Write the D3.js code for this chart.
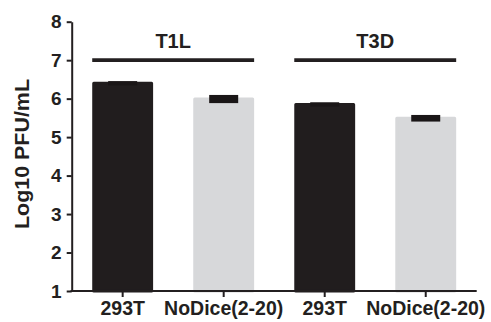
<!DOCTYPE html>
<html>
<head>
<meta charset="utf-8">
<script src="https://cdn.jsdelivr.net/npm/d3@7/dist/d3.min.js"></script>
<style>
  html, body { margin: 0; padding: 0; background: #fff; }
  svg { display: block; font-family: "Liberation Sans", Arial, Helvetica, sans-serif; }
</style>
</head>
<body>
<svg id="chart" width="491" height="322"></svg>
<script>
// Virus titres per cell line, grouped by reovirus strain
const cellLines = ["293T", "NoDice(2-20)", "293T", "NoDice(2-20)"];
const titres = [6.40, 5.99, 5.85, 5.49];   // mean Log10 PFU/mL
const errors = [0.03, 0.08, 0.03, 0.06];   // error bar half-length
const barColors = ["#211d1e", "#d7d8da", "#211d1e", "#d7d8da"];
const strains = ["T1L", "T3D"];
const strainBars = [[0, 1], [2, 3]];       // first and last bar index of each strain
const strainLineLevel = 7;
const yTicks = [1, 2, 3, 4, 5, 6, 7, 8];

const ink = "#231f20";
const svg = d3.select("#chart");

const x = d3.scaleBand()
  .domain(d3.range(cellLines.length))
  .range([71.7, 476.7])
  .paddingInner(0.427)
  .paddingOuter(0.218);

const y = d3.scaleLinear().domain([1, 8]).range([291, 21.7]);

// Bars (stroked in their own colour for the rounded GraphPad look)
svg.append("g").selectAll("rect")
  .data(titres)
  .join("rect")
  .attr("x", (d, i) => x(i))
  .attr("width", x.bandwidth())
  .attr("y", d => y(d))
  .attr("height", d => y(1) - y(d))
  .attr("fill", (d, i) => barColors[i])
  .attr("stroke", (d, i) => barColors[i])
  .attr("stroke-width", 3)
  .attr("stroke-linejoin", "round");

// Error bars
const capW = 29;
svg.append("g").selectAll("rect")
  .data(titres)
  .join("rect")
  .attr("x", (d, i) => x(i) + x.bandwidth() / 2 - capW / 2)
  .attr("width", capW)
  .attr("y", (d, i) => y(d + errors[i]) - 1)
  .attr("height", (d, i) => y(d - errors[i]) - y(d + errors[i]) + 2)
  .attr("fill", "#1a1617");

// Strain brackets and labels
const groups = svg.append("g");
strains.forEach((s, k) => {
  const [a, b] = strainBars[k];
  const x0 = x(a) - 1.5, x1 = x(b) + x.bandwidth() + 1.5;
  groups.append("line")
    .attr("x1", x0).attr("x2", x1)
    .attr("y1", y(strainLineLevel)).attr("y2", y(strainLineLevel))
    .attr("stroke", ink).attr("stroke-width", 3.8);
  groups.append("text")
    .attr("x", (x0 + x1) / 2)
    .attr("y", y(strainLineLevel) - 12)
    .attr("text-anchor", "middle")
    .attr("font-size", 20).attr("font-weight", "bold")
    .attr("fill", ink)
    .text(s);
});

// Axes
const yAxis = svg.append("g")
  .attr("transform", `translate(${71.7},0)`)
  .call(d3.axisLeft(y).tickValues(yTicks).tickFormat(d3.format("d"))
    .tickSize(5).tickSizeOuter(0).tickPadding(5));

const xAxis = svg.append("g")
  .attr("transform", `translate(0,${y(1)})`)
  .call(d3.axisBottom(x).tickFormat(i => cellLines[i])
    .tickSize(6).tickSizeOuter(0).tickPadding(4));

[yAxis, xAxis].forEach(g => {
  g.select(".domain").attr("stroke", ink).attr("stroke-width", 2);
  g.selectAll(".tick line").attr("stroke", ink).attr("stroke-width", 2);
  g.selectAll(".tick text")
    .attr("fill", ink)
    .attr("font-family", "'Liberation Sans', Arial, sans-serif")
    .attr("font-weight", "bold");
});
yAxis.selectAll(".tick text").attr("font-size", 19);
xAxis.selectAll(".tick text").attr("font-size", 19.5);
xAxis.select(".domain").attr("d", `M70.5,0H476.7`);

// Y axis title
svg.append("text")
  .attr("transform", "translate(29,154) rotate(-90)")
  .attr("text-anchor", "middle")
  .attr("font-size", 21).attr("font-weight", "bold")
  .attr("textLength", 150).attr("lengthAdjust", "spacingAndGlyphs")
  .attr("fill", ink)
  .text("Log10 PFU/mL");
</script>
</body>
</html>
